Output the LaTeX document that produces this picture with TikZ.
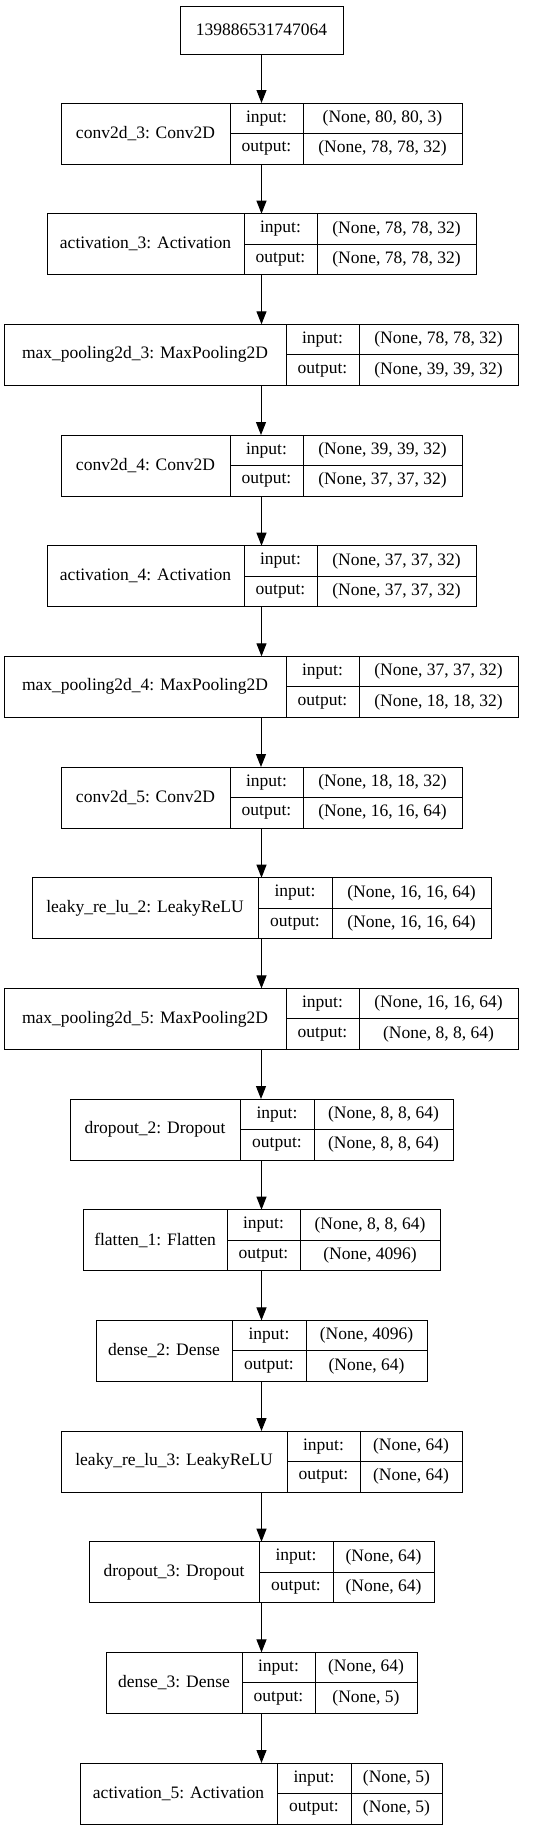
\documentclass[tikz,border=0pt]{standalone}
\usepackage{fontspec}
\setmainfont{Liberation Serif}
\usetikzlibrary{arrows.meta}

% one layer table: name, top, left, split 1, split 2, right, label, input, output
\newcommand{\kerasrow}[9]{%
    \node[rowbox, minimum width={(#6-#3)*1pt}] (#1) at ({(#3+#6)/2},{#2+30.5}) {};
    \draw[line width=1pt] (#4,#2) -- (#4,#2+61);
    \draw[line width=1pt] (#5,#2) -- (#5,#2+61);
    \draw[line width=1pt] (#4,#2+30.5) -- (#6,#2+30.5);
    \node[celltext] (#1-lab) at ({(#3+#4)/2},{#2+30.5}) {#7};
    \node[celltext] (#1-inkey) at ({(#4+#5)/2},{#2+15.25}) {input:};
    \node[celltext] (#1-outkey) at ({(#4+#5)/2},{#2+45.75}) {output:};
    \node[celltext] (#1-in) at ({(#5+#6)/2},{#2+15.25}) {#8};
    \node[celltext] (#1-out) at ({(#5+#6)/2},{#2+45.75}) {#9};
}

\begin{document}
\begin{tikzpicture}[x=1pt, y=-1pt,
    rowbox/.style={draw, line width=1pt, inner sep=0pt, outer sep=0pt, minimum height=61pt},
    celltext/.style={inner sep=0pt, font=\fontsize{17.5}{20}\selectfont},
    edge/.style={line width=1pt, -{Triangle[length=13pt, width=10pt]}}]
    \useasboundingbox (0,0) rectangle (549,1831);

    % Input node
    \node[draw, line width=1pt, inner sep=0pt, minimum width=163pt, minimum height=48pt,
          font=\fontsize{17.5}{20}\selectfont] (inp) at (261.5,30) {139886531747064};

    % Layers
    \kerasrow{conv3}{103}{61}{230}{303}{462}{conv2d\_3: Conv2D}{(None, 80, 80, 3)}{(None, 78, 78, 32)}
    \kerasrow{act3}{213.7}{47}{244}{317}{476}{activation\_3: Activation}{(None, 78, 78, 32)}{(None, 78, 78, 32)}
    \kerasrow{pool3}{324.3}{4}{286}{359}{518}{max\_pooling2d\_3: MaxPooling2D}{(None, 78, 78, 32)}{(None, 39, 39, 32)}
    \kerasrow{conv4}{435}{61}{230}{303}{462}{conv2d\_4: Conv2D}{(None, 39, 39, 32)}{(None, 37, 37, 32)}
    \kerasrow{act4}{545.7}{47}{244}{317}{476}{activation\_4: Activation}{(None, 37, 37, 32)}{(None, 37, 37, 32)}
    \kerasrow{pool4}{656.3}{4}{286}{359}{518}{max\_pooling2d\_4: MaxPooling2D}{(None, 37, 37, 32)}{(None, 18, 18, 32)}
    \kerasrow{conv5}{767}{61}{230}{303}{462}{conv2d\_5: Conv2D}{(None, 18, 18, 32)}{(None, 16, 16, 64)}
    \kerasrow{lrelu2}{877.7}{32}{258}{332}{491}{leaky\_re\_lu\_2: LeakyReLU}{(None, 16, 16, 64)}{(None, 16, 16, 64)}
    \kerasrow{pool5}{988.4}{4}{286}{359}{518}{max\_pooling2d\_5: MaxPooling2D}{(None, 16, 16, 64)}{(None, 8, 8, 64)}
    \kerasrow{drop2}{1099}{70}{240}{314}{453}{dropout\_2: Dropout}{(None, 8, 8, 64)}{(None, 8, 8, 64)}
    \kerasrow{flat1}{1209.7}{83}{227}{300}{440}{flatten\_1: Flatten}{(None, 8, 8, 64)}{(None, 4096)}
    \kerasrow{dense2}{1320.4}{96}{232}{306}{427}{dense\_2: Dense}{(None, 4096)}{(None, 64)}
    \kerasrow{lrelu3}{1431}{61}{287}{360}{462}{leaky\_re\_lu\_3: LeakyReLU}{(None, 64)}{(None, 64)}
    \kerasrow{drop3}{1541.7}{89}{259}{333}{434}{dropout\_3: Dropout}{(None, 64)}{(None, 64)}
    \kerasrow{dense3}{1652.4}{106}{242}{315}{417}{dense\_3: Dense}{(None, 64)}{(None, 5)}
    \kerasrow{act5}{1763}{80}{277}{351}{442}{activation\_5: Activation}{(None, 5)}{(None, 5)}

    % Connectors
    \foreach \a/\b in {inp/conv3, conv3/act3, act3/pool3, pool3/conv4, conv4/act4,
                       act4/pool4, pool4/conv5, conv5/lrelu2, lrelu2/pool5, pool5/drop2,
                       drop2/flat1, flat1/dense2, dense2/lrelu3, lrelu3/drop3,
                       drop3/dense3, dense3/act5}
        \draw[edge] (\a.south) -- (\a.south |- \b.north);
\end{tikzpicture}
\end{document}
